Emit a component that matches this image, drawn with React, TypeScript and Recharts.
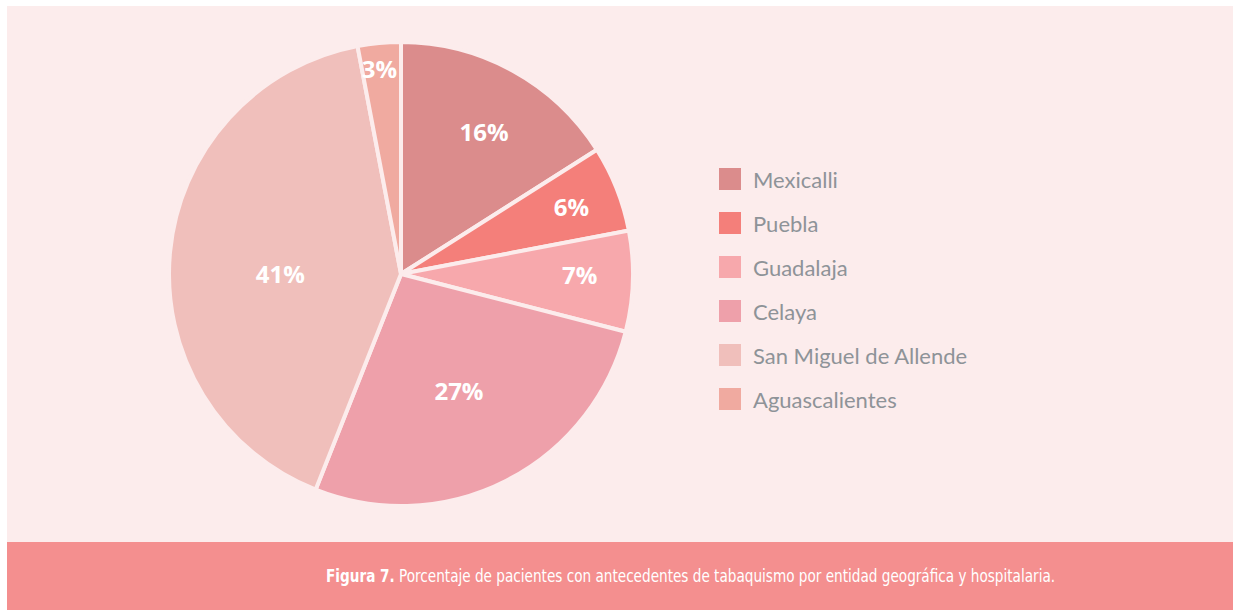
import React from 'react';
import { PieChart, Pie, Cell, Legend } from 'recharts';

const categories = ['Mexicalli', 'Puebla', 'Guadalaja', 'Celaya', 'San Miguel de Allende', 'Aguascalientes'];
const percentages = [16, 6, 7, 27, 41, 3];
const sliceColors = ['#DB8C8C', '#F47F7A', '#F7A8AC', '#EEA0AA', '#F0BFBB', '#F0AAA0'];
// label placement: distance from centre (share of radius) and a small angle nudge
const labelRadii = [0.71, 0.79, 0.77, 0.56, 0.52, 0.89];
const labelAngleShift = [-1.5, 0, 1.8, -0.5, 5, 0.6];

const data = categories.map((name, i) => ({ name, value: percentages[i] }));

const BG = '#FCECEC';

const renderLabel = (props: any) => {
    const { cx, cy, midAngle, outerRadius, index, value } = props;
    const r = outerRadius * labelRadii[index];
    const rad = Math.PI / 180;
    const a = midAngle + labelAngleShift[index];
    const x = cx + r * Math.cos(-a * rad);
    const y = cy + r * Math.sin(-a * rad);
    return (
        <text x={x} y={y} fill="#FFFFFF" textAnchor="middle" dominantBaseline="central"
            style={{ fontFamily: '"Open Sans", sans-serif', fontWeight: 700, fontSize: 24 }}>
            {`${value}%`}
        </text>
    );
};

const renderLegend = () => (
    <div style={{ fontFamily: 'Lato, sans-serif' }}>
        {categories.map((name, i) => (
            <div key={name} style={{ display: 'flex', alignItems: 'center', height: 44 }}>
                <div style={{ width: 22, height: 22, background: sliceColors[i], marginRight: 12 }} />
                <span style={{ color: '#8E9398', fontSize: 22 }}>{name}</span>
            </div>
        ))}
    </div>
);

export default function App() {
    return (
        <div style={{ position: 'absolute', left: 0, top: 0, width: 1233, height: 610, background: '#FFFFFF' }}>
            <div style={{ position: 'absolute', left: 7, top: 6, width: 1226, height: 536, background: BG }}>
                <PieChart width={1226} height={536} margin={{ top: 0, right: 0, bottom: 0, left: 0 }}>
                    <Pie
                        data={data}
                        dataKey="value"
                        nameKey="name"
                        cx={394}
                        cy={268}
                        outerRadius={232}
                        startAngle={90}
                        endAngle={-270}
                        stroke={BG}
                        strokeWidth={4}
                        label={renderLabel}
                        labelLine={false}
                        isAnimationActive={false}
                    >
                        {data.map((d, i) => (
                            <Cell key={d.name} fill={sliceColors[i]} />
                        ))}
                    </Pie>
                    <Legend
                        content={renderLegend}
                        layout="vertical"
                        wrapperStyle={{ left: 712, top: 151, width: 340 }}
                    />
                </PieChart>
            </div>
            <div style={{
                position: 'absolute', left: 7, top: 542, width: 1226, height: 68, background: '#F48F8F',
                display: 'flex', alignItems: 'center', justifyContent: 'center'
            }}>
                <span style={{
                    color: '#FFFFFF', fontSize: 17, marginLeft: 142, whiteSpace: 'nowrap',
                    display: 'inline-block', transform: 'scaleX(0.89)',
                    fontFamily: '"DejaVu Sans Condensed", sans-serif'
                }}>
                    <span style={{ fontWeight: 600 }}>Figura 7.</span> Porcentaje de pacientes con antecedentes de tabaquismo por entidad geográfica y hospitalaria.
                </span>
            </div>
        </div>
    );
}
